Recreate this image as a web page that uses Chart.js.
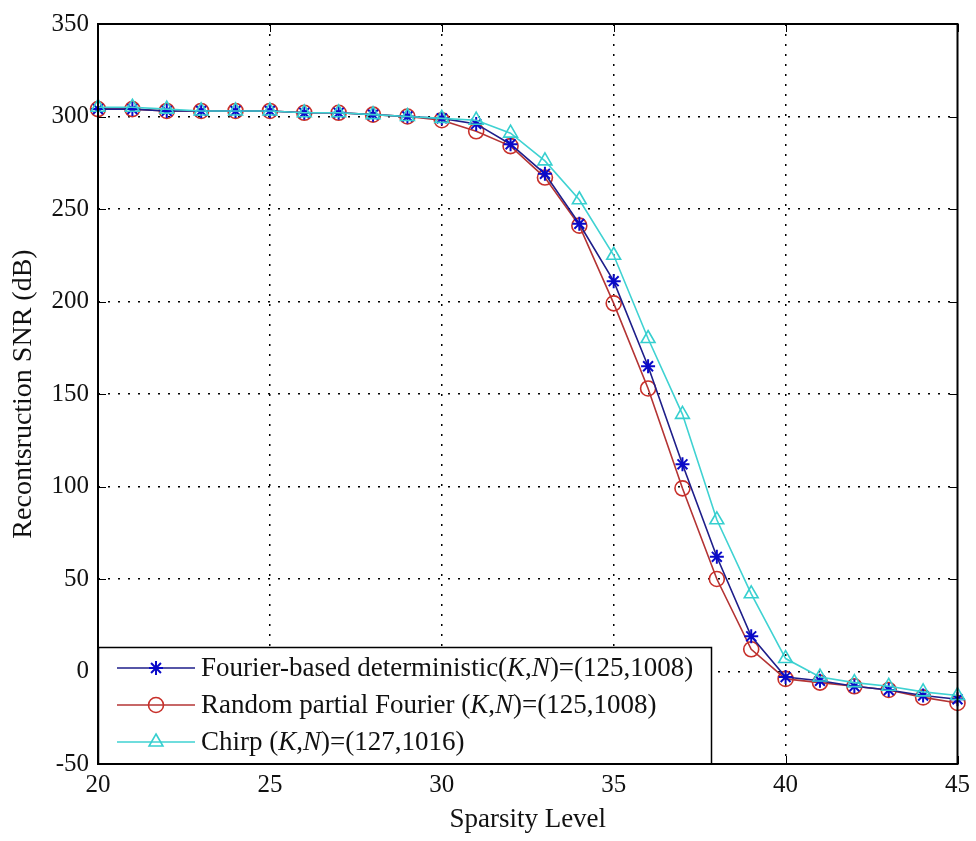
<!DOCTYPE html>
<html>
<head>
<meta charset="utf-8">
<script src="https://cdn.jsdelivr.net/npm/chart.js@4/dist/chart.umd.min.js"></script>
<style>
  html, body { margin: 0; padding: 0; background: #fff; }
  #wrap { width: 976px; height: 841px; position: relative; }
</style>
</head>
<body>
<div id="wrap"><canvas id="snrChart"></canvas></div>
<script>
// sparsity levels and reconstruction SNR (dB) for each measurement scheme
const sparsity = [20, 21, 22, 23, 24, 25, 26, 27, 28, 29, 30, 31, 32, 33, 34, 35, 36, 37, 38, 39, 40, 41, 42, 43, 44, 45];
const fourierSnr = [304, 304, 303, 303, 303, 303, 302, 302, 301, 300, 299, 296, 285, 269, 242, 211, 165, 112, 62, 19, -3, -5, -8, -10, -13, -15];
const randomSnr = [304, 304, 303, 303, 303, 303, 302, 302, 301, 300, 298, 292, 284, 267, 241, 199, 153, 99, 50, 12, -4, -6, -8, -10, -14, -17];
const chirpSnr = [305, 305, 304, 303, 303, 303, 302, 302, 301, 300, 299, 298, 291, 276, 255, 225, 180, 139, 82, 42, 7, -3, -6, -8, -11, -13];

const xTicks = [20, 25, 30, 35, 40, 45];
const yTicks = [-50, 0, 50, 100, 150, 200, 250, 300, 350];

// legend rows: [text, italic?] runs
const legendRows = [
  [['Fourier-based deterministic(', false], ['K', true], [',', false], ['N', true], [')=(125,1008)', false]],
  [['Random partial Fourier (', false], ['K', true], [',', false], ['N', true], [')=(125,1008)', false]],
  [['Chirp (', false], ['K', true], [',', false], ['N', true], [')=(127,1016)', false]]
];

const FONT = "'Liberation Serif', 'Times New Roman', serif";
const pts = ys => sparsity.map((x, i) => ({ x: x, y: ys[i] }));

const edgeGrid = (lo, hi) => c => (c.tick && (c.tick.value === lo || c.tick.value === hi)) ? 'rgba(0,0,0,0)' : '#000';

// solid box, inward tick marks, boxed legend in the lower left
const frame = {
  id: 'frame',
  afterDatasetsDraw(chart) {
    const { ctx, chartArea: a, scales } = chart;
    ctx.save();
    ctx.strokeStyle = '#000';
    ctx.lineWidth = 1;
    ctx.beginPath();
    xTicks.forEach(v => {
      const px = Math.round(scales.x.getPixelForValue(v)) + 0.5;
      ctx.moveTo(px, a.bottom); ctx.lineTo(px, a.bottom - 8);
      ctx.moveTo(px, a.top); ctx.lineTo(px, a.top + 8);
    });
    yTicks.forEach(v => {
      const py = Math.round(scales.y.getPixelForValue(v)) + 0.5;
      ctx.moveTo(a.left, py); ctx.lineTo(a.left + 8, py);
      ctx.moveTo(a.right, py); ctx.lineTo(a.right - 8, py);
    });
    ctx.stroke();

    // legend
    const lx = a.left, ly = a.bottom - 117, lw = 613, lh = 117;
    ctx.fillStyle = '#fff';
    ctx.fillRect(lx, ly, lw, lh);
    ctx.strokeStyle = '#000';
    ctx.lineWidth = 1.5;
    ctx.strokeRect(lx + 0.5, ly + 0.5, lw, lh - 0.5);
    const rowY = [21, 58, 95];
    chart.data.datasets.forEach((ds, i) => {
      const y = ly + rowY[i];
      ctx.strokeStyle = ds.borderColor;
      ctx.lineWidth = ds.borderWidth;
      ctx.beginPath();
      ctx.moveTo(lx + 19, y); ctx.lineTo(lx + 97, y);
      ctx.stroke();
      ctx.strokeStyle = ds.pointBorderColor;
      ctx.fillStyle = ds.pointBackgroundColor;
      ctx.lineWidth = ds.pointBorderWidth;
      Chart.helpers.drawPoint(ctx, {
        pointStyle: ds.pointStyle, radius: ds.pointRadius, rotation: 0,
        borderWidth: ds.pointBorderWidth
      }, lx + 58, y);
      let tx = lx + 103;
      ctx.textBaseline = 'middle';
      ctx.fillStyle = '#111';
      legendRows[i].forEach(([s, it]) => {
        ctx.font = (it ? 'italic ' : '') + '27px ' + FONT;
        ctx.fillText(s, tx, y + 1);
        tx += ctx.measureText(s).width;
      });
    });

    // axes box
    ctx.strokeStyle = '#000';
    ctx.lineWidth = 2;
    ctx.strokeRect(a.left, a.top, a.right - a.left, a.bottom - a.top);
    ctx.restore();
  }
};

new Chart(document.getElementById('snrChart'), {
  type: 'line',
  data: {
    datasets: [
      {
        label: 'Fourier-based deterministic(K,N)=(125,1008)',
        data: pts(fourierSnr),
        borderColor: '#1e1e8a', borderWidth: 1.6,
        pointStyle: 'star', pointRadius: 7, pointBorderWidth: 2,
        pointBorderColor: '#0a0ac8', pointBackgroundColor: '#0a0ac8',
        order: 1
      },
      {
        label: 'Random partial Fourier (K,N)=(125,1008)',
        data: pts(randomSnr),
        borderColor: '#b43434', borderWidth: 1.6,
        pointStyle: 'circle', pointRadius: 7.5, pointBorderWidth: 1.6,
        pointBorderColor: '#c8302a', pointBackgroundColor: 'rgba(0,0,0,0)',
        order: 2
      },
      {
        label: 'Chirp (K,N)=(127,1016)',
        data: pts(chirpSnr),
        borderColor: '#3fd2d2', borderWidth: 1.6,
        pointStyle: 'triangle', pointRadius: 8, pointBorderWidth: 1.6,
        pointBorderColor: '#36cfcf', pointBackgroundColor: 'rgba(0,0,0,0)',
        order: 0
      }
    ]
  },
  options: {
    responsive: true,
    maintainAspectRatio: false,
    animation: false,
    clip: false,
    layout: { padding: { top: 19, right: 17, left: 0, bottom: 0 } },
    plugins: {
      legend: { display: false },
      tooltip: { enabled: false }
    },
    elements: { line: { tension: 0 } },
    scales: {
      x: {
        type: 'linear', min: 20, max: 45,
        afterBuildTicks: s => { s.ticks = xTicks.map(v => ({ value: v })); },
        afterFit: s => { s.height = 77; },
        grid: { color: edgeGrid(20, 45), lineWidth: 1.5, drawTicks: false },
        border: { display: false, dash: [2, 8] },
        ticks: { color: '#111', padding: 6, maxRotation: 0, font: { family: FONT, size: 25 } },
        title: {
          display: true, text: 'Sparsity Level', color: '#111',
          font: { family: FONT, size: 27 }, padding: { top: 0, bottom: 5 }
        }
      },
      y: {
        min: -50, max: 350,
        afterBuildTicks: s => { s.ticks = yTicks.map(v => ({ value: v })); },
        afterFit: s => { s.width = 98; },
        grid: { color: edgeGrid(-50, 350), lineWidth: 1.5, drawTicks: false },
        border: { display: false, dash: [2, 8] },
        ticks: { color: '#111', padding: 9, font: { family: FONT, size: 25 } },
        title: {
          display: true, text: 'Recontsruction SNR (dB)', color: '#111',
          font: { family: FONT, size: 28 }, padding: { top: 7, bottom: 0 }
        }
      }
    }
  },
  plugins: [frame]
});
</script>
</body>
</html>
